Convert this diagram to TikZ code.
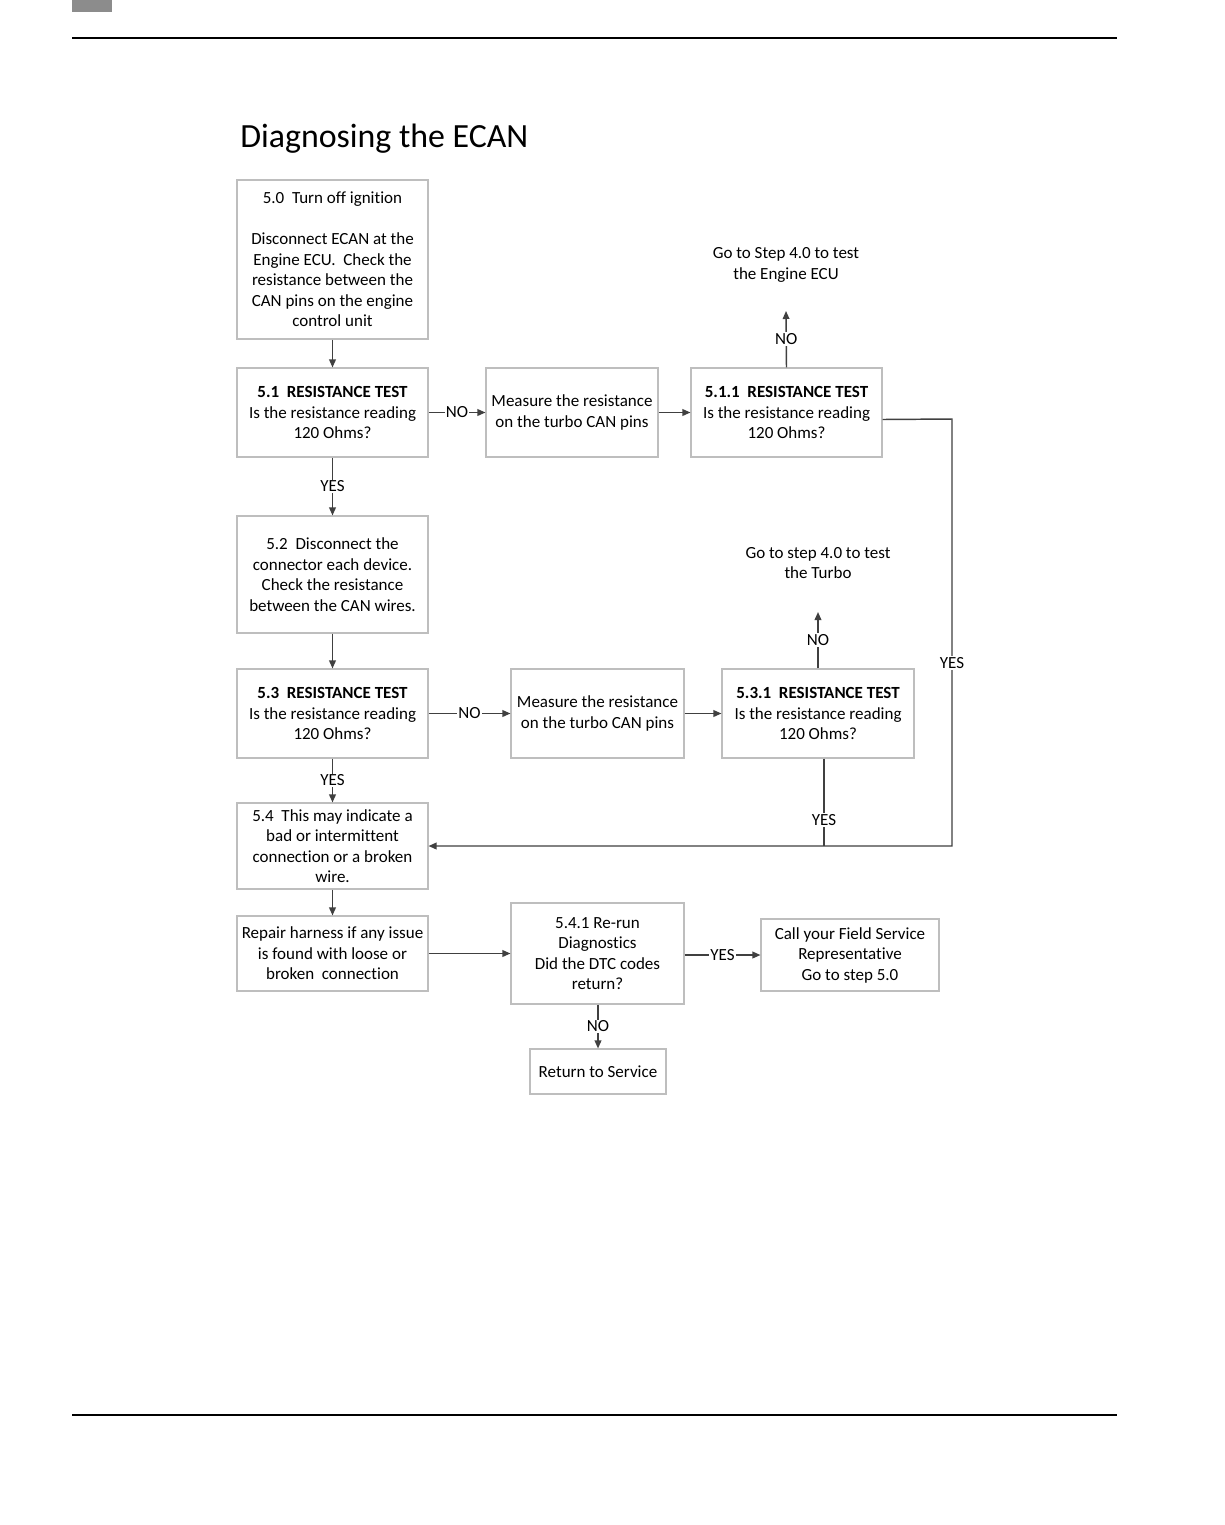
\documentclass[tikz,border=0pt]{standalone}
\usepackage{fontspec}
\setmainfont[RawFeature={-liga;-clig;-dlig;-calt;-rlig}]{Carlito}
\usetikzlibrary{arrows.meta,calc}
\definecolor{boxgray}{RGB}{190,190,190}
\definecolor{linegray}{RGB}{64,64,64}
\definecolor{hdrgray}{RGB}{140,140,140}
\begin{document}
\begin{tikzpicture}[x=0.75pt,y=-0.75pt,
  txt/.style={font=\fontsize{12.75pt}{15.4pt}\selectfont, text=black, align=center},
  box/.style={txt, draw=boxgray, line width=0.8pt, inner sep=0pt},
  conn/.style={draw=linegray, line width=1.1pt},
  arr/.style={conn, -{Triangle[length=6pt,width=5pt]}},
  lbl/.style={txt, fill=white, inner sep=1pt}]
\useasboundingbox (0,0) rectangle (1225,1525);
\fill[white] (0,0) rectangle (1225,1525);
% page header / footer
\fill[hdrgray] (72,0) rectangle (112,12);
\draw[line width=1.2pt] (72,38) -- (1117,38);
\draw[line width=1.2pt] (72,1415) -- (1117,1415);
% title
\node[anchor=base west, inner sep=0pt, font=\fontsize{25.4pt}{30pt}\selectfont] (title) at (240,147) {Diagnosing the ECAN};
% boxes
\node[box, minimum width=143.25pt, minimum height=119.25pt] (b50) at (332.5,259.5)
  {5.0\ \ Turn off ignition\\[15.4pt]Disconnect ECAN at the\\Engine ECU.\ \ Check the\\resistance between the\\CAN pins on the engine\\control unit};
\node[box, minimum width=143.25pt, minimum height=66.75pt] (b51) at (332.5,412.5)
  {\textbf{5.1\ \ RESISTANCE TEST}\\Is the resistance reading\\120 Ohms?};
\node[box, minimum width=129pt, minimum height=66.75pt] (m1) at (572,412.5)
  {Measure the resistance\\on the turbo CAN pins};
\node[box, minimum width=143.25pt, minimum height=66.75pt] (b511) at (786.5,412.5)
  {\textbf{5.1.1\ \ RESISTANCE TEST}\\Is the resistance reading\\120 Ohms?};
\node[txt] (g1) at (786,265) {Go to Step 4.0 to test\\the Engine ECU};
\coordinate (g1a) at (786,311);
\node[box, minimum width=143.25pt, minimum height=87.75pt] (b52) at (332.5,574.5)
  {5.2\ \ Disconnect the\\connector each device.\\Check the resistance\\between the CAN wires.};
\node[box, minimum width=143.25pt, minimum height=66.75pt] (b53) at (332.5,713.5)
  {\textbf{5.3\ \ RESISTANCE TEST}\\Is the resistance reading\\120 Ohms?};
\node[box, minimum width=129.75pt, minimum height=66.75pt] (m2) at (597.5,713.5)
  {Measure the resistance\\on the turbo CAN pins};
\node[box, minimum width=144pt, minimum height=66.75pt] (b531) at (818,713.5)
  {\textbf{5.3.1\ \ RESISTANCE TEST}\\Is the resistance reading\\120 Ohms?};
\node[txt] (g2) at (818,563) {Go to step 4.0 to test\\the Turbo};
\coordinate (g2a) at (818,612);
\node[box, minimum width=143.25pt, minimum height=64.5pt] (b54) at (332.5,846)
  {5.4\ \ This may indicate a\\bad or intermittent\\connection or a broken\\wire.};
\node[box, minimum width=143.25pt, minimum height=56.25pt] (rep) at (332.5,953.5)
  {Repair harness if any issue\\is found with loose or\\broken\ \ connection};
\node[box, minimum width=129.75pt, minimum height=75.75pt] (b541) at (597.5,953.5)
  {5.4.1 Re-run\\Diagnostics\\Did the DTC codes\\return?};
\node[box, minimum width=133.5pt, minimum height=54pt] (call) at (850,955)
  {Call your Field Service\\Representative\\Go to step 5.0};
\node[box, minimum width=102pt, minimum height=33.75pt] (ret) at (598,1071.5)
  {Return to Service};
% helper coordinates
\coordinate (r1) at (952,419);
\coordinate (r2) at (952,846);
\coordinate (j1) at (824,846);
% connectors
\draw[arr] (b50) -- (b51);
\draw[arr] (b51) -- node[lbl]{NO} (m1);
\draw[arr] (m1) -- (b511);
\draw[arr] (b511.north) -- node[lbl]{NO} (g1a);
\draw[arr] (b51) -- node[lbl]{YES} (b52);
\draw[arr] (b52) -- (b53);
\draw[arr] (b53) -- node[lbl]{NO} (m2);
\draw[arr] (m2) -- (b531);
\draw[arr] (b531.north) -- node[lbl]{NO} (g2a);
\draw[arr] (b53) -- node[lbl]{YES} (b54);
\draw[arr] ([yshift=-5.25pt]b511.east) -- (r1) -- node[lbl, pos=0.571]{YES} (r2) -- (b54.east);
\draw[conn] ([xshift=4.5pt]b531.south) -- node[lbl, pos=0.7]{YES} (j1);
\draw[arr] (b54) -- (rep);
\draw[arr] (rep) -- (b541);
\draw[arr] (b541.east |- call.west) -- node[lbl]{YES} (call.west);
\draw[arr] (b541.south -| ret.north) -- node[lbl]{NO} (ret.north);
\end{tikzpicture}
\end{document}
